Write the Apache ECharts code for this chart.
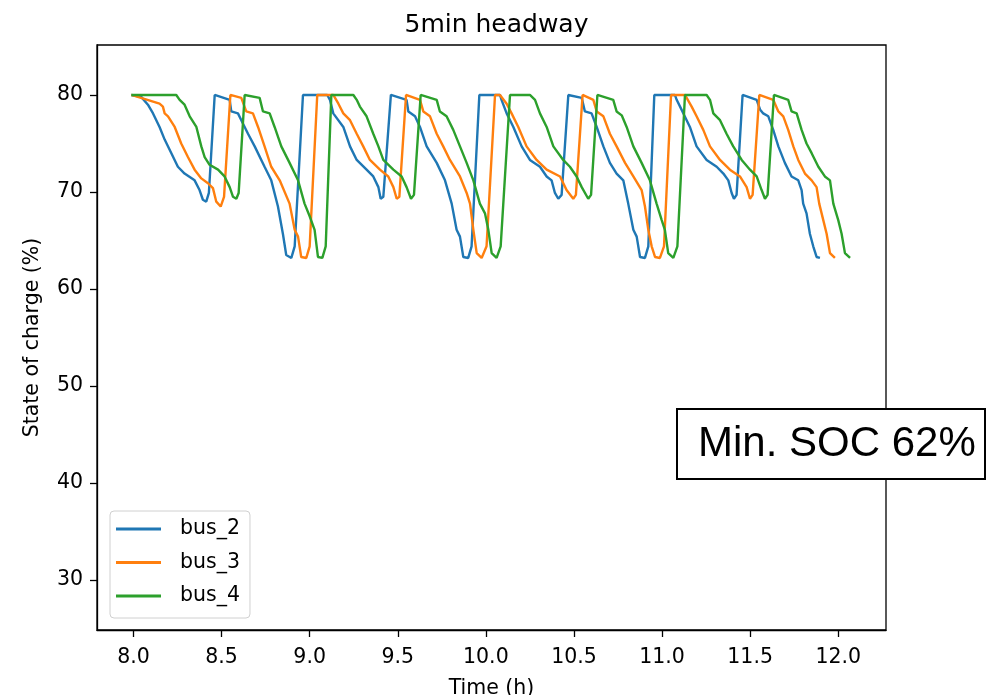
<!DOCTYPE html>
<html>
<head>
<meta charset="utf-8">
<script src="https://cdn.jsdelivr.net/npm/echarts@6/dist/echarts.min.js"></script>
<style>
html,body{margin:0;padding:0;background:#fff;}
#chart{width:986px;height:695px;}
</style>
</head>
<body>
<div id="chart"></div>
<script>
const seriesNames = ['bus_2', 'bus_3', 'bus_4'];
const xTicks = [8.0, 8.5, 9.0, 9.5, 10.0, 10.5, 11.0, 11.5, 12.0];
const yTicks = [30, 40, 50, 60, 70, 80];

// [time (h), state of charge (%)]
const bus2 = [
  [7.988,80],[8.044,79.8],[8.082,79.0],[8.111,78.1],[8.148,76.7],[8.177,75.4],[8.215,74.0],[8.252,72.6],[8.290,71.9],[8.347,71.2],[8.375,70.2],[8.394,69.2],[8.413,69.0],[8.428,69.9],[8.461,80],
  [8.546,79.5],[8.555,78.3],[8.593,78.1],[8.612,77.4],[8.650,76.0],[8.688,74.7],[8.744,72.6],[8.782,71.2],[8.820,68.5],[8.848,65.7],[8.867,63.5],[8.896,63.2],[8.915,64.4],[8.962,80],
  [9.100,80],[9.115,79.5],[9.134,78.1],[9.191,76.7],[9.229,74.7],[9.267,73.3],[9.323,72.3],[9.361,71.6],[9.390,70.5],[9.403,69.3],[9.418,69.5],[9.461,80],
  [9.550,79.5],[9.560,78.3],[9.598,77.8],[9.626,76.7],[9.664,74.7],[9.721,73.0],[9.768,71.2],[9.806,68.8],[9.834,66.1],[9.853,65.4],[9.872,63.3],[9.900,63.2],[9.919,64.4],[9.963,80],
  [10.080,80],[10.089,79.5],[10.118,78.1],[10.156,76.7],[10.203,74.7],[10.250,73.3],[10.307,72.6],[10.345,71.6],[10.373,71.2],[10.392,69.9],[10.411,69.3],[10.430,69.7],[10.468,80],
  [10.544,79.7],[10.562,78.3],[10.600,78.1],[10.629,76.7],[10.667,74.7],[10.704,73.0],[10.742,71.9],[10.780,71.2],[10.808,68.8],[10.837,66.1],[10.856,65.4],[10.875,63.3],[10.903,63.2],[10.922,64.4],[10.956,80],
  [11.073,80],[11.083,79.5],[11.121,78.1],[11.158,76.7],[11.196,74.7],[11.253,73.3],[11.310,72.6],[11.348,71.9],[11.376,71.2],[11.395,69.9],[11.408,69.3],[11.423,69.7],[11.457,80],
  [11.537,79.5],[11.556,78.5],[11.574,78.1],[11.603,77.8],[11.631,76.4],[11.660,74.7],[11.697,73.0],[11.735,71.6],[11.773,71.2],[11.792,70.2],[11.801,68.8],[11.820,67.8],[11.839,65.7],[11.858,64.4],[11.877,63.3],[11.896,63.2]
];
const bus3 = [
  [7.988,80],[8.148,79.1],[8.167,78.8],[8.177,78.1],[8.196,77.8],[8.234,76.7],[8.271,75.0],[8.309,73.6],[8.347,72.3],[8.385,71.4],[8.423,70.9],[8.451,70.4],[8.470,69.0],[8.495,68.5],[8.514,69.5],[8.550,80],
  [8.612,79.7],[8.640,78.3],[8.678,78.1],[8.707,76.7],[8.744,74.7],[8.782,72.6],[8.830,71.2],[8.886,68.8],[8.915,66.1],[8.934,65.4],[8.952,63.3],[8.981,63.2],[9.000,64.4],[9.043,80],
  [9.134,80],[9.163,79.1],[9.191,78.1],[9.229,77.4],[9.267,76.0],[9.304,74.7],[9.342,73.3],[9.399,72.3],[9.446,71.6],[9.475,70.5],[9.494,69.3],[9.509,69.5],[9.547,80],
  [9.626,79.5],[9.645,78.3],[9.683,77.8],[9.721,76.0],[9.758,74.7],[9.796,73.3],[9.853,71.6],[9.891,69.9],[9.910,68.8],[9.929,66.1],[9.948,63.7],[9.976,63.2],[10.004,64.4],[10.052,80],
  [10.080,80],[10.118,79.1],[10.146,78.1],[10.184,76.7],[10.231,74.7],[10.288,73.3],[10.345,72.3],[10.421,71.6],[10.458,70.2],[10.496,69.3],[10.511,69.7],[10.549,80],
  [10.610,79.5],[10.629,78.3],[10.667,77.8],[10.704,76.0],[10.742,74.7],[10.790,73.0],[10.837,71.6],[10.884,70.2],[10.903,68.5],[10.922,66.1],[10.941,64.4],[10.960,63.3],[10.988,63.2],[11.011,64.4],[11.051,80],
  [11.130,80],[11.139,79.8],[11.168,78.8],[11.196,77.8],[11.234,76.4],[11.272,74.7],[11.329,73.3],[11.385,72.3],[11.442,71.6],[11.480,70.5],[11.499,69.3],[11.514,69.7],[11.552,80],
  [11.631,79.5],[11.660,78.3],[11.688,77.8],[11.716,76.4],[11.745,74.7],[11.773,73.3],[11.811,71.9],[11.849,71.2],[11.877,70.5],[11.892,68.8],[11.915,67.1],[11.934,65.7],[11.953,63.7],[11.981,63.2]
];
const bus4 = [
  [7.988,80],[8.243,80],[8.262,79.5],[8.290,79.0],[8.319,77.8],[8.357,76.7],[8.385,74.7],[8.404,73.6],[8.432,72.8],[8.480,72.3],[8.517,71.6],[8.546,70.5],[8.565,69.5],[8.584,69.3],[8.597,69.9],[8.631,80],
  [8.716,79.7],[8.735,78.3],[8.773,78.1],[8.801,76.7],[8.839,74.7],[8.886,73.0],[8.934,71.2],[8.971,68.8],[9.000,67.5],[9.028,66.1],[9.047,63.3],[9.072,63.2],[9.091,64.4],[9.123,80],
  [9.248,80],[9.267,79.5],[9.285,78.8],[9.323,77.8],[9.361,76.0],[9.390,74.7],[9.418,73.3],[9.475,72.3],[9.522,71.6],[9.550,70.5],[9.575,69.3],[9.592,69.7],[9.630,80],
  [9.721,79.5],[9.739,78.3],[9.777,77.8],[9.815,76.4],[9.853,74.7],[9.891,73.0],[9.929,71.2],[9.966,68.8],[9.995,67.8],[10.014,66.1],[10.033,63.7],[10.061,63.2],[10.084,64.4],[10.137,80],
  [10.250,80],[10.279,79.5],[10.307,78.1],[10.345,76.7],[10.383,74.7],[10.439,73.3],[10.477,72.6],[10.515,71.6],[10.544,70.5],[10.581,69.3],[10.597,69.7],[10.633,80],
  [10.723,79.5],[10.742,78.3],[10.771,77.9],[10.799,76.7],[10.837,74.7],[10.884,73.0],[10.931,71.2],[10.969,68.8],[10.998,67.1],[11.016,66.1],[11.035,63.7],[11.064,63.2],[11.087,64.4],[11.130,80],
  [11.253,80],[11.272,79.5],[11.291,78.1],[11.329,77.4],[11.366,76.0],[11.404,74.7],[11.452,73.3],[11.499,72.3],[11.537,71.6],[11.565,70.2],[11.584,69.3],[11.599,69.7],[11.635,80],
  [11.716,79.5],[11.735,78.3],[11.764,78.1],[11.792,76.4],[11.820,75.0],[11.849,74.0],[11.887,72.6],[11.924,71.6],[11.953,71.2],[11.972,68.8],[12.000,67.1],[12.019,65.7],[12.038,63.7],[12.067,63.2]
];
const busData = [bus2, bus3, bus4];
const colors = ['#1f77b4', '#ff7f0e', '#2ca02c'];

const FONT = '"DejaVu Sans", sans-serif';
const chart = echarts.init(document.getElementById('chart'), null, {renderer: 'canvas'});
chart.setOption({
  animation: false,
  backgroundColor: '#fff',
  title: {
    text: '5min headway',
    left: 491.5, textAlign: 'center', top: 8,
    textStyle: {fontFamily: FONT, fontSize: 25, fontWeight: 'normal', color: '#000'}
  },
  grid: {left: 97, right: 100, top: 45, bottom: 65, containLabel: false, outerBoundsMode: 'none', show: true, borderColor: '#000', borderWidth: 1.3, backgroundColor: 'transparent'},
  legend: {
    orient: 'vertical', left: 110, top: 511,
    data: seriesNames,
    icon: 'rect', itemWidth: 45, itemHeight: 3, itemGap: 9.5,
    padding: [6, 10, 10, 6],
    borderColor: '#d0d0d0', borderWidth: 1, borderRadius: 4,
    backgroundColor: 'rgba(255,255,255,0.8)',
    textStyle: {fontFamily: FONT, fontSize: 20.5, color: '#000', lineHeight: 24, padding: [0, 0, 0, 14]}
  },
  xAxis: {
    type: 'value', min: 7.793, max: 12.271,
    name: 'Time (h)', nameLocation: 'middle', nameGap: 48,
    nameTextStyle: {fontFamily: FONT, fontSize: 20.5, color: '#000'},
    axisLine: {show: true, onZero: false, lineStyle: {color: '#000', width: 1.3}},
    axisTick: {show: true, inside: false, length: 7, lineStyle: {color: '#000', width: 1.3}, customValues: xTicks},
    axisLabel: {margin: 17, fontFamily: FONT, fontSize: 20.5, color: '#000', customValues: xTicks, formatter: v => v.toFixed(1)},
    splitLine: {show: false}
  },
  yAxis: {
    type: 'value', min: 24.85, max: 85.15,
    name: 'State of charge (%)', nameLocation: 'middle', nameGap: 54,
    nameTextStyle: {fontFamily: FONT, fontSize: 20.5, color: '#000'},
    axisLine: {show: true, onZero: false, lineStyle: {color: '#000', width: 1.3}},
    axisTick: {show: true, inside: false, length: 7, lineStyle: {color: '#000', width: 1.3}, customValues: yTicks},
    axisLabel: {margin: 14, fontFamily: FONT, fontSize: 20.5, color: '#000', customValues: yTicks, formatter: v => String(v)},
    splitLine: {show: false}
  },
  series: busData.map((d, i) => ({
    name: seriesNames[i], type: 'line', data: d,
    showSymbol: false, symbol: 'none',
    lineStyle: {color: colors[i], width: 2.4},
    itemStyle: {color: colors[i]},
    clip: true
  })),
  graphic: [{
    type: 'group', left: 676, top: 408, z: 100,
    children: [
      {type: 'rect', shape: {x: 0, y: 0, width: 308, height: 70}, style: {fill: '#fff', stroke: '#000', lineWidth: 2}},
      {type: 'text', x: 21, y: 35, style: {text: 'Min. SOC 62%', font: '42px "Liberation Sans", Arial, sans-serif', fill: '#000', verticalAlign: 'middle', align: 'left'}}
    ]
  }]
});
</script>
</body>
</html>
